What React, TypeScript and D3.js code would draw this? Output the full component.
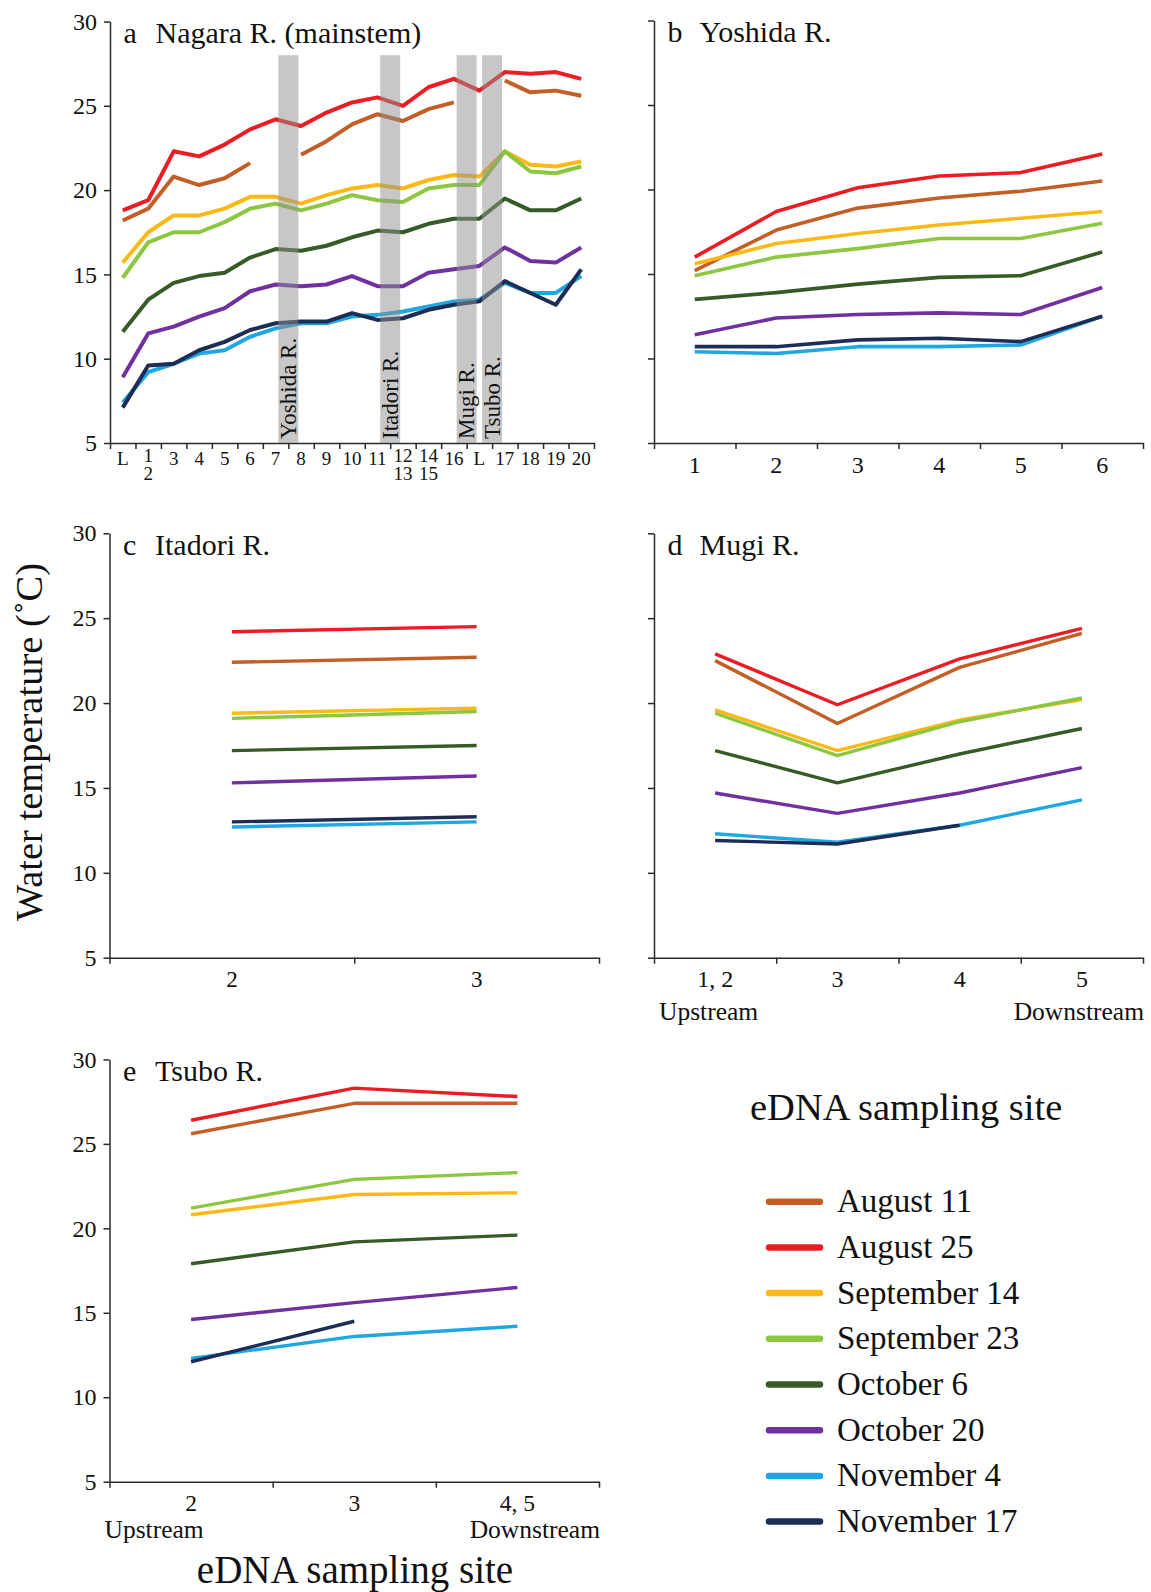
import React, { useEffect, useRef } from "react"
import * as d3 from "d3"

const FONT = "'Liberation Serif', 'Times New Roman', serif"

const dates = ["August 11", "August 25", "September 14", "September 23", "October 6", "October 20", "November 4", "November 17"]
const colors = ["#c25e26", "#ec1c24", "#fbb817", "#8dc63f", "#375b26", "#7030a0", "#1fa7e1", "#1d2d55"]
const yTicks = [5, 10, 15, 20, 25, 30]

// a  Nagara R. (mainstem) - "|" splits a stacked label
const sitesA = ["L", "1|2", "3", "4", "5", "6", "7", "8", "9", "10", "11", "12|13", "14|15", "16", "L", "17", "18", "19", "20"]
// rows follow the order of dates
const nagara = [
  [18.2, 18.9, 20.8, 20.3, 20.7, 21.6, null, 22.1, 22.9, 23.9, 24.5, 24.1, 24.8, 25.2, null, 26.5, 25.8, 25.9, 25.6],
  [18.8, 19.4, 22.3, 22.0, 22.7, 23.6, 24.2, 23.8, 24.6, 25.2, 25.5, 25.0, 26.1, 26.6, 25.9, 27.0, 26.9, 27.0, 26.6],
  [15.7, 17.5, 18.5, 18.5, 18.9, 19.6, 19.6, 19.2, 19.7, 20.1, 20.3, 20.1, 20.6, 20.9, 20.8, 22.3, 21.5, 21.4, 21.7],
  [14.8, 16.9, 17.5, 17.5, 18.1, 18.9, 19.2, 18.8, 19.2, 19.7, 19.4, 19.3, 20.1, 20.3, 20.3, 22.3, 21.1, 21.0, 21.4],
  [11.6, 13.5, 14.5, 14.9, 15.1, 16.0, 16.5, 16.4, 16.7, 17.2, 17.6, 17.5, 18.0, 18.3, 18.3, 19.5, 18.8, 18.8, 19.5],
  [8.9, 11.5, 11.9, 12.5, 13.0, 14.0, 14.4, 14.3, 14.4, 14.9, 14.3, 14.3, 15.1, 15.3, 15.5, 16.6, 15.8, 15.7, 16.6],
  [7.4, 9.2, 9.7, 10.3, 10.5, 11.3, 11.8, 12.1, 12.1, 12.5, 12.6, 12.8, 13.1, 13.4, 13.5, 14.5, 13.9, 13.9, 14.9],
  [7.1, 9.6, 9.7, 10.5, 11.0, 11.7, 12.1, 12.2, 12.2, 12.7, 12.3, 12.4, 12.9, 13.2, 13.4, 14.6, 13.9, 13.2, 15.3],
]
// tributary confluences: name and the site index just upstream of it
const tributaries = ["Yoshida R.", "Itadori R.", "Mugi R.", "Tsubo R."]
const confluenceAfter = [6, 10, 13, 14]
const confluenceTop = 28

// b  Yoshida R.
const sitesB = ["1", "2", "3", "4", "5", "6"]
const yoshida = [
  [15.2, 17.6, 18.9, 19.5, 19.9, 20.5],
  [16.0, 18.7, 20.1, 20.8, 21.0, 22.1],
  [15.6, 16.8, 17.4, 17.9, 18.3, 18.7],
  [14.9, 16.0, 16.5, 17.1, 17.1, 18.0],
  [13.5, 13.9, 14.4, 14.8, 14.9, 16.3],
  [11.4, 12.4, 12.6, 12.7, 12.6, 14.2],
  [10.4, 10.3, 10.7, 10.7, 10.8, 12.5],
  [10.7, 10.7, 11.1, 11.2, 11.0, 12.5],
]

// c  Itadori R.
const sitesC = ["2", "3"]
const itadori = [
  [22.4, 22.7],
  [24.2, 24.5],
  [19.4, 19.7],
  [19.1, 19.5],
  [17.2, 17.5],
  [15.3, 15.7],
  [12.7, 13.0],
  [13.0, 13.3],
]

// d  Mugi R.
const sitesD = ["1, 2", "3", "4", "5"]
const mugi = [
  [22.5, 18.8, 22.1, 24.1],
  [22.9, 19.9, 22.6, 24.4],
  [19.6, 17.2, 19.0, 20.2],
  [19.4, 16.9, 18.9, 20.3],
  [17.2, 15.3, 17.0, 18.5],
  [14.7, 13.5, 14.7, 16.2],
  [12.3, 11.8, 12.8, 14.3],
  [11.9, 11.7, 12.8, null],
]

// e  Tsubo R.
const sitesE = ["2", "3", "4, 5"]
const tsubo = [
  [25.6, 27.4, 27.4],
  [26.4, 28.3, 27.8],
  [20.8, 22.0, 22.1],
  [21.2, 22.9, 23.3],
  [17.9, 19.2, 19.6],
  [14.6, 15.6, 16.5],
  [12.3, 13.6, 14.2],
  [12.1, 14.5, null],
]

const panels = [
  { letter: "a", name: "Nagara R. (mainstem)", sites: sitesA, values: nagara, left: 110, right: 594, top: 21.5, bottom: 443, yLabels: true, xFont: 19, xLabelDy: 22, lineW: 4, streamDx: 0, streamDy: 0 },
  { letter: "b", name: "Yoshida R.", sites: sitesB, values: yoshida, left: 654, right: 1143, top: 20.5, bottom: 443, yLabels: false, xFont: 24, xLabelDy: 30, lineW: 3.6, streamDx: 0, streamDy: 0 },
  { letter: "c", name: "Itadori R.", sites: sitesC, values: itadori, left: 109.5, right: 599, top: 533.3, bottom: 957.7, yLabels: true, xFont: 23, xLabelDy: 29, lineW: 3.4, streamDx: 0, streamDy: 0 },
  { letter: "d", name: "Mugi R.", sites: sitesD, values: mugi, left: 654, right: 1143, top: 533.3, bottom: 957.7, yLabels: false, xFont: 24, xLabelDy: 29.5, lineW: 3.4, streamDx: 5, streamDy: 62 },
  { letter: "e", name: "Tsubo R.", sites: sitesE, values: tsubo, left: 109.5, right: 599, top: 1059.4, bottom: 1481.7, yLabels: true, xFont: 23.5, xLabelDy: 29, lineW: 3.4, streamDx: -5, streamDy: 56 },
]

function drawPanel(svg, p, withBars) {
  const n = p.sites.length
  const x = d3.scaleBand().domain(d3.range(n)).range([p.left, p.right])
  const xb = d3.scaleLinear().domain([0, n]).range([p.left, p.right])
  const y = d3.scaleLinear().domain([5, 30]).range([p.bottom, p.top])
  const g = svg.append("g")

  const yAxis = d3.axisLeft(y).tickValues(yTicks).tickSize(6).tickSizeOuter(0).tickPadding(7)
    .tickFormat(p.yLabels ? d3.format("d") : () => "")
  const ya = g.append("g").attr("transform", "translate(" + p.left + ",0)").call(yAxis)
  const xAxis = d3.axisBottom(xb).tickValues(d3.range(n + 1)).tickSize(6).tickSizeOuter(0).tickFormat(() => "")
  const xa = g.append("g").attr("transform", "translate(0," + p.bottom + ")").call(xAxis)
  ;[ya, xa].forEach(a => {
    a.selectAll("path, line").attr("stroke", "#2a2a2a").attr("stroke-width", 1.5)
    a.selectAll("text").attr("font-family", FONT).attr("font-size", 24).attr("fill", "#111")
  })

  // site labels in the middle of each band
  p.sites.forEach((s, i) => {
    const cx = x(i) + x.bandwidth() / 2
    const parts = s.split("|")
    const t = g.append("text").attr("font-family", FONT).attr("font-size", p.xFont)
      .attr("text-anchor", "middle").attr("fill", "#111")
    if (parts.length === 1) {
      t.attr("x", cx).attr("y", p.bottom + p.xLabelDy).text(s)
    } else {
      t.append("tspan").attr("x", cx).attr("y", p.bottom + 19).text(parts[0])
      t.append("tspan").attr("x", cx).attr("y", p.bottom + 37).text(parts[1])
    }
  })

  if (p.streamDy) {
    g.append("text").attr("x", p.left + p.streamDx).attr("y", p.bottom + p.streamDy)
      .attr("font-family", FONT).attr("font-size", 25.5).attr("fill", "#111").text("Upstream")
    g.append("text").attr("x", p.right + 1).attr("y", p.bottom + p.streamDy)
      .attr("text-anchor", "end").attr("font-family", FONT).attr("font-size", 25.5).attr("fill", "#111").text("Downstream")
  }

  const line = d3.line()
    .defined(d => d != null)
    .x((d, i) => x(i) + x.bandwidth() / 2)
    .y(d => y(d))
  p.values.forEach((vals, k) => {
    g.append("path")
      .attr("d", line(vals))
      .attr("fill", "none")
      .attr("stroke", colors[k])
      .attr("stroke-width", p.lineW)
      .attr("stroke-linejoin", "round")
  })

  if (withBars) {
    tributaries.forEach((name, j) => {
      const bx = xb(confluenceAfter[j] + 1)
      g.append("rect")
        .attr("x", bx - 10).attr("width", 20)
        .attr("y", y(confluenceTop)).attr("height", y(5) - y(confluenceTop))
        .attr("fill", "#909090").attr("opacity", 0.5)
      g.append("text")
        .attr("transform", "translate(" + (bx + 7.5) + "," + (p.bottom - 4) + ") rotate(-90)")
        .attr("font-family", FONT).attr("font-size", 23).attr("fill", "#111")
        .text(name)
    })
  }

  g.append("text").attr("x", p.left + 13.5).attr("y", p.top + 21.5)
    .attr("font-family", FONT).attr("font-size", 30).attr("fill", "#111").text(p.letter)
  g.append("text").attr("x", p.left + 45.5).attr("y", p.top + 21.5)
    .attr("font-family", FONT).attr("font-size", 30).attr("fill", "#111").text(p.name)
}

export default function App() {
  const ref = useRef(null)

  useEffect(() => {
    const svg = d3.select(ref.current)
    svg.selectAll("*").remove()
    svg.append("rect").attr("width", 1151).attr("height", 1592).attr("fill", "#fff")

    panels.forEach((p, i) => drawPanel(svg, p, i === 0))

    svg.append("text")
      .attr("transform", "translate(41.5,742) rotate(-90)")
      .attr("text-anchor", "middle").attr("font-family", FONT).attr("font-size", 38.5).attr("fill", "#111")
      .text("Water temperature (˚C)")
    svg.append("text")
      .attr("x", 355).attr("y", 1583).attr("text-anchor", "middle")
      .attr("font-family", FONT).attr("font-size", 39).attr("fill", "#111")
      .text("eDNA sampling site")
    svg.append("text")
      .attr("x", 750).attr("y", 1120)
      .attr("font-family", FONT).attr("font-size", 38.5).attr("fill", "#111")
      .text("eDNA sampling site")

    const legend = svg.append("g").attr("transform", "translate(769,1201.7)")
    dates.forEach((d, i) => {
      const row = legend.append("g").attr("transform", "translate(0," + i * 45.7 + ")")
      row.append("line").attr("x1", 0).attr("x2", 51).attr("stroke", colors[i])
        .attr("stroke-width", 6.5).attr("stroke-linecap", "round")
      row.append("text").attr("x", 68).attr("y", 10.5)
        .attr("font-family", FONT).attr("font-size", 33).attr("fill", "#111").text(d)
    })
  }, [])

  return <svg ref={ref} width={1151} height={1592} style={{ position: "absolute", left: 0, top: 0 }} />
}
